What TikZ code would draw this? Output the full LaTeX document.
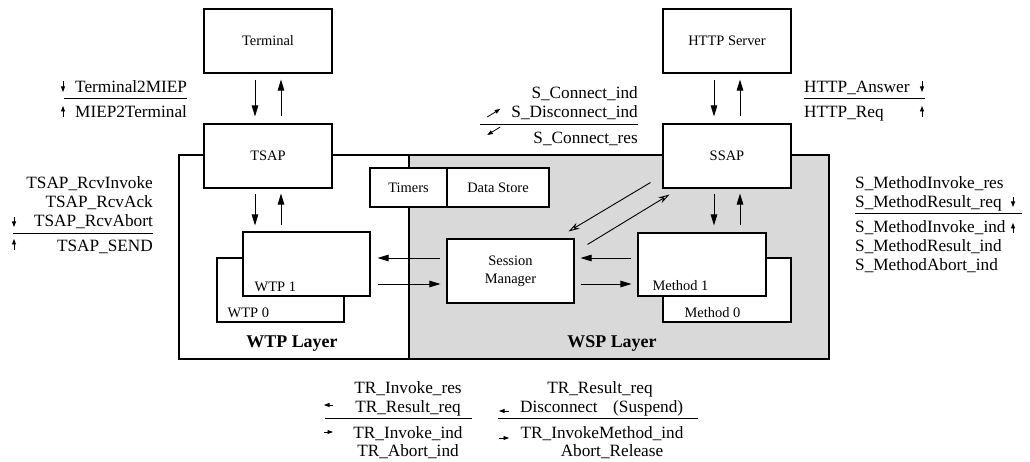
\documentclass[tikz,border=0pt]{standalone}
\usepackage{fontspec}
\setmainfont{Liberation Serif}
\usetikzlibrary{arrows.meta}
\definecolor{wspgray}{gray}{0.85}
\newcommand{\boxfont}{\fontsize{14.5}{18}\selectfont}
\newcommand{\sigfont}{\fontsize{17.3}{20}\selectfont}
\newcommand{\layerfont}{\fontsize{18}{20}\selectfont\bfseries}
\begin{document}
\begin{tikzpicture}[x=1bp,y=-1bp,
    box/.style={draw,fill=white,line width=1.1bp,minimum width=128bp,minimum height=64bp,inner sep=0pt,font=\boxfont},
    boxtxt/.style={inner sep=0pt,font=\boxfont},
    sig/.style={inner sep=0pt,font=\sigfont},
    arr/.style={line width=0.9bp,-{Triangle[length=11bp,width=6.5bp]}},
    diag/.style={line width=0.9bp,-{Stealth[open,length=11bp,width=6.5bp]}},
    tip/.style={line width=0.8bp,-{Triangle[length=5.5bp,width=4bp]}},
    rule/.style={line width=0.9bp}]
    \useasboundingbox (0,0) rectangle (1030,462);
    %layers
    \coordinate (L1) at (179,155);
    \coordinate (L2) at (409,359);
    \coordinate (L3) at (829,155);
    \draw[line width=1.1bp] (L1) rectangle (L2);
    \draw[line width=1.1bp,fill=wspgray] (L2 |- L3) rectangle (L3 |- L2);
    \node[font=\layerfont,anchor=base] (wtpl) at (292,348) {WTP Layer};
    \node[font=\layerfont,anchor=base] (wspl) at (612,348) {WSP Layer};
    %boxes
    \node[box] (term) at (268,41) {Terminal};
    \node[box] (tsap) at (268,156) {TSAP};
    \node[box] (http) at (727,41) {HTTP Server};
    \node[box] (ssap) at (727,156) {SSAP};
    \node[box,minimum width=77bp,minimum height=39bp] (timers) at (408.5,187.5) {Timers};
    \node[box,minimum width=102bp,minimum height=39bp] (store) at (498,187.5) {Data Store};
    \node[box,minimum width=127bp,align=center] (sm) at (510.5,271) {Session\\Manager};
    \node[box,minimum width=127bp] (wtpzero) at (280.5,290) {};
    \node[box,minimum width=127bp] (wtpone) at (306.5,264) {};
    \node[box] (mzero) at (727,290) {};
    \node[box,minimum height=63bp] (mone) at (702,264.5) {};
    \node[boxtxt,anchor=base west] (wtpzerol) at ([shift={(11bp,5bp)}]wtpzero.south west) {WTP 0};
    \node[boxtxt,anchor=base west] (wtponel) at ([shift={(12bp,5bp)}]wtpone.south west) {WTP 1};
    \node[boxtxt,anchor=base west] (mzerol) at ([shift={(22bp,5bp)}]mzero.south west) {Method 0};
    \node[boxtxt,anchor=base west] (monel) at ([shift={(15bp,6bp)}]mone.south west) {Method 1};
    %vertical arrows
    \draw[arr] ([xshift=-13bp,yshift=-6bp]term.south) -- ([xshift=-13bp,yshift=7bp]tsap.north);
    \draw[arr] ([xshift=13bp,yshift=7bp]tsap.north) -- ([xshift=13bp,yshift=-6bp]term.south);
    \draw[arr] ([xshift=-13bp,yshift=-6bp]http.south) -- ([xshift=-13bp,yshift=7bp]ssap.north);
    \draw[arr] ([xshift=13bp,yshift=7bp]ssap.north) -- ([xshift=13bp,yshift=-6bp]http.south);
    \draw[arr] ([xshift=-13bp,yshift=-5bp]tsap.south) -- ([xshift=-13bp,yshift=6bp]tsap.south |- wtpone.north);
    \draw[arr] ([xshift=13bp,yshift=6bp]tsap.south |- wtpone.north) -- ([xshift=13bp,yshift=-5bp]tsap.south);
    \draw[arr] ([xshift=-13bp,yshift=-5bp]ssap.south) -- ([xshift=-13bp,yshift=7bp]ssap.south |- mone.north);
    \draw[arr] ([xshift=13bp,yshift=7bp]ssap.south |- mone.north) -- ([xshift=13bp,yshift=-5bp]ssap.south);
    %horizontal arrows
    \draw[arr] ([xshift=-6bp,yshift=13bp]sm.west) -- ([xshift=7bp,yshift=13bp]sm.west -| wtpone.east);
    \draw[arr] ([xshift=7bp,yshift=-13bp]sm.west -| wtpone.east) -- ([xshift=-6bp,yshift=-13bp]sm.west);
    \draw[arr] ([xshift=-6bp,yshift=13bp]sm.east -| mone.west) -- ([xshift=6bp,yshift=13bp]sm.east);
    \draw[arr] ([xshift=6bp,yshift=-13bp]sm.east) -- ([xshift=-6bp,yshift=-13bp]sm.east -| mone.west);
    %diagonal arrows
    \draw[diag] ([xshift=-12bp,yshift=6bp]ssap.south west) -- ([xshift=-6bp,yshift=7bp]sm.north east);
    \draw[diag] ([xshift=13bp,yshift=-6bp]sm.north east) -- ([xshift=7bp,yshift=-6bp]ssap.south west);
    %terminal signals
    \node[sig,anchor=base west] (t2m) at (75,93) {Terminal2MIEP};
    \node[sig,anchor=base west] (m2t) at (75,118) {MIEP2Terminal};
    \draw[rule] ([xshift=-11bp,yshift=-5bp]t2m.base west) -- ([yshift=-5bp]t2m.base east);
    \draw[tip] ([shift={(-12bp,12bp)}]t2m.base west) -- ++(0,11);
    \draw[tip] ([shift={(-12bp,1bp)}]m2t.base west) -- ++(0,-11);
    %http signals
    \node[sig,anchor=base west] (hans) at (804,93) {HTTP\_Answer};
    \node[sig,anchor=base west] (hreq) at (804,118) {HTTP\_Req};
    \draw[rule] ([yshift=-5bp]hans.base west) -- ++(121,0);
    \draw[tip] ([shift={(118bp,12bp)}]hans.base west) -- ++(0,11);
    \draw[tip] ([shift={(118bp,1bp)}]hreq.base west) -- ++(0,-11);
    %connect signals
    \node[sig,anchor=base east] (sci) at (638,99) {S\_Connect\_ind};
    \node[sig,anchor=base east] (sdi) at (638,118) {S\_Disconnect\_ind};
    \node[sig,anchor=base east] (scr) at (638,144) {S\_Connect\_res};
    \draw[rule] ([yshift=-6bp]sdi.base east) -- ++(-158,0);
    \draw[tip] ([shift={(-24bp,1bp)}]sdi.base west) -- ++(13,-8);
    \draw[tip] ([shift={(-11bp,-9bp)}]sdi.base west) -- ++(-13,8);
    %tsap signals
    \node[sig,anchor=base east] (tri) at (153,189) {TSAP\_RcvInvoke};
    \node[sig,anchor=base east] (tra) at (153,208) {TSAP\_RcvAck};
    \node[sig,anchor=base east] (trb) at (153,227) {TSAP\_RcvAbort};
    \node[sig,anchor=base east] (tse) at (153,252) {TSAP\_SEND};
    \draw[rule] ([yshift=-6bp]trb.base east) -- ++(-140,0);
    \draw[tip] ([shift={(-139bp,10bp)}]trb.base east) -- ++(0,10);
    \draw[tip] ([shift={(-139bp,2bp)}]tse.base east) -- ++(0,-11);
    %method signals
    \node[sig,anchor=base west] (smir) at (855,189) {S\_MethodInvoke\_res};
    \node[sig,anchor=base west] (smrr) at (855,208) {S\_MethodResult\_req};
    \node[sig,anchor=base west] (smii) at (855,233) {S\_MethodInvoke\_ind};
    \node[sig,anchor=base west] (smri) at (855,252) {S\_MethodResult\_ind};
    \node[sig,anchor=base west] (smai) at (855,271) {S\_MethodAbort\_ind};
    \draw[rule] ([yshift=-5bp]smrr.base west) -- ++(167,0);
    \draw[tip] ([shift={(158bp,11bp)}]smrr.base west) -- ++(0,10);
    \draw[tip] ([shift={(158bp,0bp)}]smii.base west) -- ++(0,-10);
    %transaction signals
    \node[sig,anchor=base] (tir) at (408,394) {TR\_Invoke\_res};
    \node[sig,anchor=base] (trq) at (408,412) {TR\_Result\_req};
    \node[sig,anchor=base] (tii) at (408,438) {TR\_Invoke\_ind};
    \node[sig,anchor=base] (tai) at (408,456) {TR\_Abort\_ind};
    \draw[rule] ([shift={(-83bp,-6bp)}]trq.base) -- ++(147,0);
    \draw[tip] ([shift={(-75bp,7bp)}]trq.base) -- ++(-9,0);
    \draw[tip] ([shift={(-84bp,6bp)}]tii.base) -- ++(9,0);
    \node[sig,anchor=base] (rrq) at (600,394) {TR\_Result\_req};
    \node[sig,anchor=base west] (dis) at (520,412) {Disconnect\hspace{0.9em}(Suspend)};
    \node[sig,anchor=base] (tim) at (602,438) {TR\_InvokeMethod\_ind};
    \node[sig,anchor=base] (abr) at (612,456) {Abort\_Release};
    \draw[rule] ([shift={(-22bp,-6bp)}]dis.base west) -- ++(200,0);
    \draw[tip] ([shift={(-11bp,1bp)}]dis.base west) -- ++(-10,0);
    \draw[tip] ([shift={(-21bp,-26bp)}]dis.base west) -- ++(10,0);
\end{tikzpicture}
\end{document}
